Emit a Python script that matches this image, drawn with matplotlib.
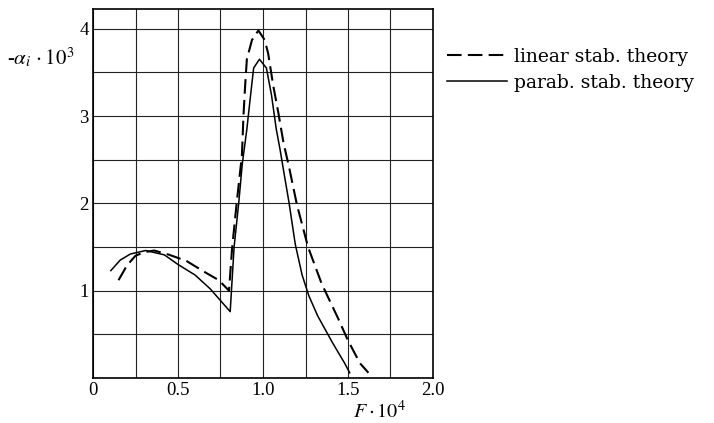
import matplotlib
matplotlib.use("Agg")
import matplotlib.pyplot as plt
from matplotlib.ticker import MultipleLocator, FixedLocator

plt.rcParams['font.family'] = ['Liberation Serif', 'DejaVu Serif']
plt.rcParams['mathtext.fontset'] = 'stix'

# linear stability theory (dashed)
lin_f = [0.15, 0.20, 0.25, 0.30, 0.36, 0.45, 0.55, 0.66, 0.74, 0.80,
         0.818, 0.846, 0.876, 0.885, 0.895, 0.905, 0.935, 0.973, 1.01, 1.03,
         1.06, 1.09, 1.12, 1.155, 1.20, 1.265, 1.345, 1.44, 1.50, 1.57, 1.62]
lin_a = [1.12, 1.29, 1.40, 1.44, 1.46, 1.41, 1.34, 1.21, 1.12, 1.00,
         1.48, 2.02, 2.55, 3.00, 3.35, 3.65, 3.87, 3.98, 3.87, 3.72,
         3.35, 3.04, 2.70, 2.40, 1.98, 1.50, 1.08, 0.69, 0.43, 0.17, 0.06]

# parabolic stability theory (solid)
par_f = [0.105, 0.16, 0.22, 0.31, 0.42, 0.50, 0.60, 0.69, 0.807, 0.83,
         0.857, 0.878, 0.905, 0.927, 0.945, 0.979, 1.02, 1.05, 1.078, 1.10,
         1.125, 1.153, 1.19, 1.23, 1.27, 1.322, 1.41, 1.48, 1.51]
par_a = [1.23, 1.35, 1.42, 1.46, 1.41, 1.30, 1.18, 1.02, 0.76, 1.50,
         2.00, 2.45, 2.85, 3.24, 3.55, 3.65, 3.55, 3.24, 2.85, 2.62,
         2.33, 2.01, 1.53, 1.18, 0.94, 0.71, 0.40, 0.17, 0.06]

x_ticks = [0, 0.5, 1.0, 1.5, 2.0]
x_labels = ['0', '0.5', '1.0', '1.5', '2.0']
y_ticks = [1, 2, 3, 4]

fig = plt.figure(figsize=(7.14, 4.23), dpi=100)
ax = fig.add_axes([93 / 714, 45 / 423, 340 / 714, 368.5 / 423])

ax.plot(lin_f, lin_a, color='black', lw=1.5, dashes=(7, 3),
        label='linear stab. theory')
ax.plot(par_f, par_a, color='black', lw=1.1, label='parab. stab. theory')

ax.set_xlim(0, 2.0)
ax.set_ylim(0, 4.22)
ax.xaxis.set_minor_locator(MultipleLocator(0.25))
ax.yaxis.set_minor_locator(MultipleLocator(0.5))
ax.xaxis.set_major_locator(FixedLocator(x_ticks))
ax.set_xticklabels(x_labels)
ax.yaxis.set_major_locator(FixedLocator(y_ticks))
ax.grid(True, which='both', color='#222222', lw=0.8)
ax.set_axisbelow(True)
ax.tick_params(which='both', length=0, labelsize=13.5)
ax.tick_params(axis='x', pad=3)
ax.tick_params(axis='y', pad=3)
for s in ax.spines.values():
    s.set_linewidth(1.2)

fig.text(7 / 714, 1 - 65 / 423, r'-$\alpha_i\,\cdot 10^3$', fontsize=15,
         va='baseline', ha='left')
fig.text(353 / 714, 1 - 418 / 423, r'$F\cdot 10^4$', fontsize=14.5,
         va='baseline', ha='left')

ax.legend(loc='upper left', bbox_to_anchor=(447 / 714, 1 - 48 / 423),
          bbox_transform=fig.transFigure, frameon=False,
          prop={'family': 'DejaVu Serif', 'size': 13.5},
          handlelength=3.2, handletextpad=0.4, labelspacing=0.4,
          borderpad=0, borderaxespad=0)

fig.savefig('out.png', dpi=100)
